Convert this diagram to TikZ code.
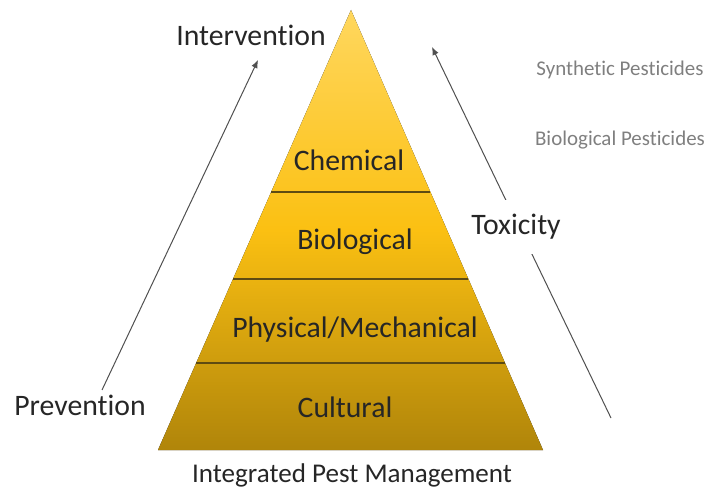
\documentclass[tikz,border=0pt]{standalone}
\usepackage{fontspec}
\setmainfont{Carlito}[Ligatures=NoCommon]
\usetikzlibrary{arrows.meta,calc}
\definecolor{ipmtop}{HTML}{FFD75E}
\definecolor{ipmmid}{HTML}{FBC012}
\definecolor{ipmbot}{HTML}{B0850A}
\definecolor{tierline}{HTML}{5E4B12}
\definecolor{txt}{HTML}{262626}
\definecolor{notegray}{HTML}{7F7F7F}
\definecolor{arrowgray}{HTML}{505050}
\tikzset{
  every picture/.style={line width=0.75pt},
  lbl/.style={font=\fontsize{22.3}{25}\selectfont,text=txt,inner sep=1pt},
  tier/.style={lbl},
  title/.style={font=\fontsize{20.3}{23}\selectfont,text=txt,inner sep=1pt},
  note/.style={font=\fontsize{15.7}{18}\selectfont,text=notegray,inner sep=1pt},
  trend/.style={-{Latex[length=6pt,width=5pt]},draw=arrowgray,line width=0.75pt},
  divider/.style={draw=tierline,line width=1pt},
}

\begin{document}
\begin{tikzpicture}[x=0.75pt,y=0.75pt]
\useasboundingbox (0,0) rectangle (710,489);
% pyramid corners
\coordinate (AP) at (351,479);
\coordinate (BL) at (158,39);
\coordinate (BR) at (543,39);
\fill[top color=ipmtop,bottom color=ipmbot,middle color=ipmmid] (BL) -- (AP) -- (BR) -- cycle;
% tier borders
\foreach \t in {0.198,0.389,0.586}
  \draw[divider] ($(BL)!\t!(AP)$) -- ($(BR)!\t!(AP)$);
% tiers
\node[tier] (cult) at (345,82)  {Cultural};
\node[tier] (phys) at (355,159) {Physical/Mechanical};
\node[tier] (bio)  at (355,247) {Biological};
\node[tier] (chem) at (349,329) {Chemical};
\node[title] (ipm) at (352,14)  {Integrated Pest Management};
% prevention -> intervention
\node[lbl] (prev)  at (80,84)   {Prevention};
\node[lbl] (inter) at (251,454) {Intervention};
\coordinate (L0) at (102,99);
\coordinate (L1) at (258,429);
\draw[trend] (L0) -- (L1);
% toxicity
\coordinate (R0) at (611,71);
\coordinate (R1) at (432,442);
\draw[trend] (R0) -- (R1);
\node[lbl,fill=white,minimum height=40pt,inner xsep=2pt] (tox) at (516,262) {Toxicity};
% pesticide notes
\node[note] (syn)  at (620,419) {Synthetic Pesticides};
\node[note] (biop) at (620,349) {Biological Pesticides};
\end{tikzpicture}
\end{document}
